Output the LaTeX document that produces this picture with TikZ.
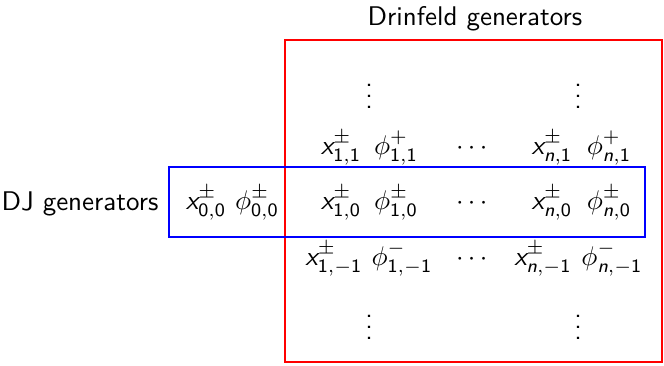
\documentclass[tikz,border=0pt]{standalone}
\usepackage{amsmath}
\usepackage{fontspec}
\renewcommand{\familydefault}{\sfdefault}
\newcommand{\vx}{\text{\sffamily\itshape x}}
\newcommand{\vn}{\text{\sffamily\itshape n}}
\newcommand{\sd}[1]{\text{\sffamily\upshape #1}}
\newcommand{\zz}[1]{\scalebox{2.7}{#1}}
\begin{document}
\begin{tikzpicture}[x=1pt,y=-1pt,
  every node/.style={inner sep=0pt, font=\fontsize{10}{12}\selectfont\sffamily},
  lbl/.style={anchor=base},
  redbox/.style={draw=red, line width=1.6pt},
  bluebox/.style={draw=blue, line width=1.6pt}]
\useasboundingbox (0,0) rectangle (664,365);
\node[lbl] (title) at (475,25) {\zz{Drinfeld generators}};
\node[lbl] (dj) at (80,210) {\zz{DJ generators}};
% red box
\coordinate (r1) at (285,40);
\coordinate (r2) at (662,362);
\draw[redbox] (r1) rectangle (r2);
% blue box
\coordinate (b1) at (169,167);
\coordinate (b2) at (645,237);
\draw[bluebox] (b1) rectangle (b2);
% row 0
\node[lbl] (x00) at (206,209) {\zz{$\vx^{\pm}_{\sd{0},\sd{0}}$}};
\node[lbl] (p00) at (257,209) {\zz{$\phi^{\pm}_{\sd{0},\sd{0}}$}};
\node[lbl] (x10) at (341,209) {\zz{$\vx^{\pm}_{\sd{1},\sd{0}}$}};
\node[lbl] (p10) at (396,209) {\zz{$\phi^{\pm}_{\sd{1},\sd{0}}$}};
\node[lbl] (c0) at (474,209) {\zz{$\cdots$}};
\node[lbl] (xn0) at (552,209) {\zz{$\vx^{\pm}_{\vn,\sd{0}}$}};
\node[lbl] (pn0) at (609,209) {\zz{$\phi^{\pm}_{\vn,\sd{0}}$}};
% row 1
\node[lbl] (x11) at (341,154) {\zz{$\vx^{\pm}_{\sd{1},\sd{1}}$}};
\node[lbl] (p11) at (396,154) {\zz{$\phi^{+}_{\sd{1},\sd{1}}$}};
\node[lbl] (c1) at (474,154) {\zz{$\cdots$}};
\node[lbl] (xn1) at (552,154) {\zz{$\vx^{\pm}_{\vn,\sd{1}}$}};
\node[lbl] (pn1) at (609,154) {\zz{$\phi^{+}_{\vn,\sd{1}}$}};
% row -1
\node[lbl] (x1m) at (334,265) {\zz{$\vx^{\pm}_{\sd{1},-\sd{1}}$}};
\node[lbl] (p1m) at (402,265) {\zz{$\phi^{-}_{\sd{1},-\sd{1}}$}};
\node[lbl] (cm) at (474,265) {\zz{$\cdots$}};
\node[lbl] (xnm) at (543,265) {\zz{$\vx^{\pm}_{\vn,-\sd{1}}$}};
\node[lbl] (pnm) at (612,265) {\zz{$\phi^{-}_{\vn,-\sd{1}}$}};
% vertical dots
\node[lbl] (v1t) at (369,108) {\zz{$\vdots$}};
\node[lbl] (vnt) at (578,108) {\zz{$\vdots$}};
\node[lbl] (v1b) at (369,339) {\zz{$\vdots$}};
\node[lbl] (vnb) at (578,339) {\zz{$\vdots$}};
\end{tikzpicture}
\end{document}
